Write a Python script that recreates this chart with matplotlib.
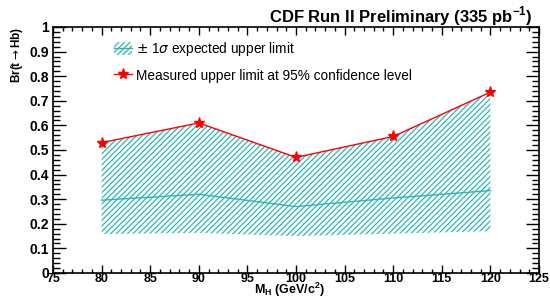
import matplotlib
matplotlib.use("Agg")
import matplotlib.pyplot as plt
from matplotlib.patches import Patch
from matplotlib.lines import Line2D
from matplotlib.ticker import MultipleLocator

# Higgs mass points (GeV/c^2)
masses = [80, 90, 100, 110, 120]
# measured 95% CL upper limit on Br(t -> Hb)
measured = [0.53, 0.61, 0.47, 0.555, 0.735]
# expected limit (central) and lower edge of band
expected = [0.296, 0.32, 0.27, 0.305, 0.335]
band_low = [0.158, 0.163, 0.15, 0.16, 0.17]

cyan = "#2ab7b7"
plt.rcParams["font.family"] = ["Liberation Sans", "DejaVu Sans"]
plt.rcParams["hatch.linewidth"] = 0.9
plt.rcParams["hatch.color"] = cyan

fig = plt.figure(figsize=(5.5, 2.99), dpi=100)
ax = fig.add_axes([0.0964, 0.087, 0.8836, 0.8227])

ax.fill_between(masses, band_low, measured, facecolor="none",
                edgecolor=cyan, hatch="//////", linewidth=0)
ax.plot(masses, expected, color=cyan, lw=1.0)
ax.plot(masses, measured, color="red", lw=1.0, marker="*",
        markersize=8, markeredgecolor="red")

ax.set_xlim(75, 125)
ax.set_ylim(0, 1)
ax.xaxis.set_major_locator(MultipleLocator(5))
ax.xaxis.set_minor_locator(MultipleLocator(1))
ax.yaxis.set_minor_locator(MultipleLocator(0.02))
ax.set_yticks([i / 10 for i in range(11)])
ax.set_yticklabels(["0", "0.1", "0.2", "0.3", "0.4", "0.5", "0.6", "0.7",
                    "0.8", "0.9", "1"])
ax.tick_params(which="both", direction="in", top=True, right=True, width=1)
ax.tick_params(axis="y", which="major", length=9.5, pad=3, labelsize=10)
ax.tick_params(axis="y", which="minor", length=5)
ax.tick_params(axis="x", which="major", length=5.5, pad=0, labelsize=9)
ax.tick_params(axis="x", which="minor", length=3)
for lab in ax.get_xticklabels() + ax.get_yticklabels():
    lab.set_fontweight("bold")
for sp in ax.spines.values():
    sp.set_linewidth(1.2)

fig.text(0.527, 0.0, r"M$_\mathregular{H}$ (GeV/c$^\mathregular{2}$)",
         ha="center", va="bottom", fontsize=9, fontweight="bold")
ax.set_ylabel(r"Br(t$\rightarrow$Hb)", fontsize=8.5, fontweight="bold",
              loc="top", labelpad=3)

fig.text(0.968, 0.945, r"CDF Run II Preliminary (335 pb$^\mathregular{-1}$)",
         ha="right", va="center", fontsize=12, fontweight="bold")

band_handle = (Patch(facecolor="none", edgecolor=cyan, hatch="//////", lw=0),
               Line2D([], [], color=cyan, lw=1.0))
meas_handle = Line2D([], [], color="red", lw=1.0, marker="*",
                     markersize=8)
ax.legend([band_handle, meas_handle],
          [r"$\pm$ 1$\sigma$ expected upper limit",
           "Measured upper limit at 95% confidence level"],
          loc="upper left", bbox_to_anchor=(0.1, 0.995), frameon=False,
          fontsize=9.8, handlelength=1.3, handleheight=1.1,
          handletextpad=0.3, labelspacing=0.75)

fig.savefig("out.png", dpi=100)
